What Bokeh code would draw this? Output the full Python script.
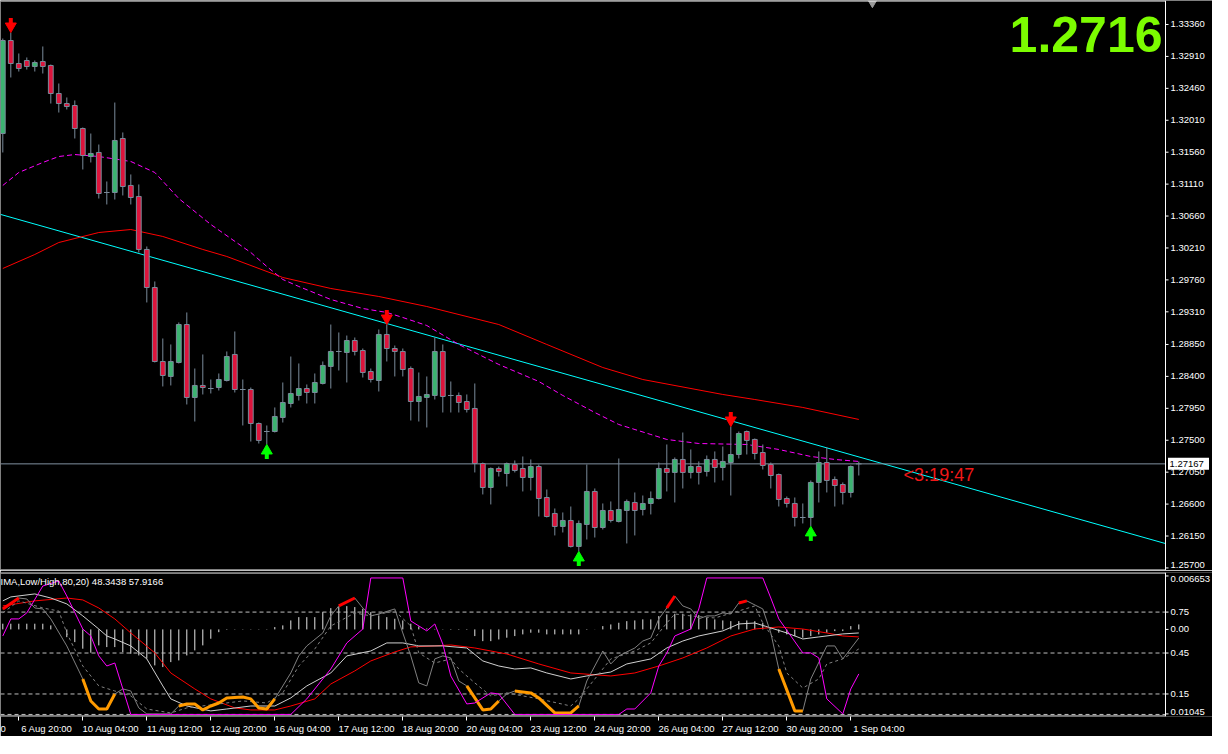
from bokeh.plotting import figure
from bokeh.layouts import column
from bokeh.models import (ColumnDataSource, Range1d, LinearAxis, FixedTicker, Label)
from bokeh.core.properties import value
from bokeh.embed import file_html
from bokeh.resources import INLINE

# ---------------- price data (H4 bars) ----------------
opens = [
    1.31823, 1.33134, 1.32810, 1.32852, 1.32768, 1.32838, 1.32782, 1.32387, 1.32246, 1.32218,
    1.31894, 1.31499, 1.31556, 1.30992, 1.30992, 1.31753, 1.31091, 1.30936, 1.30189, 1.29653,
    1.28610, 1.28399, 1.28596, 1.29131, 1.28103, 1.28272, 1.28229, 1.28243, 1.28342, 1.28709,
    1.28215, 1.28215, 1.27736, 1.27623, 1.27623, 1.27821, 1.28018, 1.28131, 1.28229, 1.28173,
    1.28300, 1.28540, 1.28751, 1.28737, 1.28906, 1.28765, 1.28469, 1.28342, 1.28991, 1.28793,
    1.28751, 1.28511, 1.28046, 1.28103, 1.28131, 1.28751, 1.28131, 1.28131, 1.28046, 1.27948,
    1.27172, 1.26834, 1.27102, 1.27031, 1.27158, 1.27102, 1.26975, 1.27130, 1.26693, 1.26468,
    1.26285, 1.26369, 1.26003, 1.26313, 1.26778, 1.26270, 1.26510, 1.26355, 1.26510, 1.26623,
    1.26524, 1.26609, 1.26679, 1.27102, 1.27046, 1.27229, 1.27046, 1.27130, 1.27060, 1.27229,
    1.27116, 1.27186, 1.27299, 1.27623, 1.27511, 1.27327, 1.27158, 1.27017, 1.26679, 1.26609,
    1.26411, 1.26411, 1.26905, 1.27186, 1.26947, 1.26876, 1.26764, 1.27167]
highs = [
    1.33162, 1.33247, 1.32951, 1.32895, 1.32852, 1.33050, 1.32796, 1.32528, 1.32331, 1.32289,
    1.31908, 1.31823, 1.31668, 1.31147, 1.32260, 1.31838, 1.31246, 1.31105, 1.30231, 1.29738,
    1.28934, 1.28850, 1.29160, 1.29301, 1.28511, 1.28709, 1.28356, 1.28441, 1.28751, 1.29033,
    1.28356, 1.28243, 1.27750, 1.27708, 1.27962, 1.28314, 1.28680, 1.28582, 1.28286, 1.28441,
    1.28610, 1.29131, 1.29019, 1.28976, 1.28948, 1.28793, 1.28511, 1.29061, 1.29131, 1.28835,
    1.28793, 1.28540, 1.28455, 1.28399, 1.28948, 1.28850, 1.28328, 1.28173, 1.28145, 1.28300,
    1.27186, 1.27116, 1.27130, 1.27186, 1.27215, 1.27271, 1.27229, 1.27158, 1.26806, 1.26538,
    1.26482, 1.26566, 1.26369, 1.27158, 1.26820, 1.26609, 1.26637, 1.27243, 1.26665, 1.26764,
    1.26721, 1.26778, 1.27186, 1.27440, 1.27257, 1.27609, 1.27370, 1.27201, 1.27285, 1.27342,
    1.27412, 1.27694, 1.27623, 1.27637, 1.27525, 1.27440, 1.27186, 1.27031, 1.26707, 1.26693,
    1.26609, 1.26933, 1.27342, 1.27398, 1.26989, 1.26905, 1.27144, 1.27201]
lows = [
    1.31556, 1.32613, 1.32697, 1.32725, 1.32697, 1.32669, 1.32246, 1.32119, 1.32162, 1.31753,
    1.31316, 1.31415, 1.30907, 1.30823, 1.30893, 1.30950, 1.30823, 1.30146, 1.29442, 1.28596,
    1.28258, 1.28272, 1.28582, 1.28004, 1.27764, 1.28145, 1.28159, 1.28201, 1.28328, 1.28173,
    1.27708, 1.27482, 1.27454, 1.27440, 1.27609, 1.27750, 1.27962, 1.28060, 1.28018, 1.28018,
    1.28286, 1.28229, 1.28483, 1.28314, 1.28695, 1.28384, 1.28314, 1.28187, 1.28610, 1.28399,
    1.28399, 1.27778, 1.27764, 1.27680, 1.28074, 1.27891, 1.27891, 1.27891, 1.27891, 1.27046,
    1.26736, 1.26595, 1.26989, 1.26848, 1.27046, 1.26778, 1.26792, 1.26425, 1.26411, 1.26158,
    1.26200, 1.25988, 1.25932, 1.26101, 1.26129, 1.26242, 1.26341, 1.26341, 1.26045, 1.26158,
    1.26440, 1.26454, 1.26665, 1.26778, 1.26623, 1.26820, 1.26961, 1.26876, 1.26989, 1.26905,
    1.26933, 1.26721, 1.27243, 1.27299, 1.27229, 1.27088, 1.26820, 1.26566, 1.26552, 1.26285,
    1.26327, 1.26285, 1.26623, 1.26764, 1.26566, 1.26595, 1.26693, 1.27003]
closes = [
    1.33134, 1.32810, 1.32740, 1.32768, 1.32824, 1.32768, 1.32387, 1.32246, 1.32204, 1.31894,
    1.31513, 1.31542, 1.30978, 1.30992, 1.31725, 1.31076, 1.30921, 1.30189, 1.29653, 1.28610,
    1.28413, 1.28610, 1.29131, 1.28103, 1.28272, 1.28243, 1.28229, 1.28356, 1.28680, 1.28215,
    1.28215, 1.27736, 1.27497, 1.27623, 1.27835, 1.28032, 1.28159, 1.28229, 1.28173, 1.28314,
    1.28554, 1.28751, 1.28751, 1.28906, 1.28751, 1.28455, 1.28356, 1.28991, 1.28793, 1.28751,
    1.28497, 1.28046, 1.28117, 1.28145, 1.28751, 1.28117, 1.28131, 1.28032, 1.27933, 1.27172,
    1.26834, 1.27102, 1.27060, 1.27172, 1.27074, 1.26975, 1.27130, 1.26679, 1.26425, 1.26285,
    1.26369, 1.26003, 1.26327, 1.26778, 1.26270, 1.26510, 1.26369, 1.26524, 1.26637, 1.26510,
    1.26609, 1.26679, 1.27102, 1.27046, 1.27229, 1.27046, 1.27130, 1.27046, 1.27229, 1.27116,
    1.27201, 1.27299, 1.27595, 1.27497, 1.27313, 1.27144, 1.27003, 1.26665, 1.26609, 1.26411,
    1.26411, 1.26905, 1.27186, 1.26933, 1.26862, 1.26764, 1.27130, 1.27167]
bars = list(range(len(opens)))

x_tick_bars = [2, 10, 18, 26, 34, 42, 50, 58, 66, 74, 82, 90, 98, 106]
x_tick_labels = ["6 Aug 20:00", "10 Aug 04:00", "11 Aug 12:00", "12 Aug 20:00",
                 "16 Aug 04:00", "17 Aug 12:00", "18 Aug 20:00", "20 Aug 04:00",
                 "23 Aug 12:00", "24 Aug 20:00", "26 Aug 04:00", "27 Aug 12:00",
                 "30 Aug 20:00", "1 Sep 04:00"]
price_ticks = [1.3336, 1.3291, 1.3246, 1.3201, 1.3156, 1.3111, 1.3066, 1.3021, 1.2976,
               1.2931, 1.2885, 1.2840, 1.2795, 1.2750, 1.2705, 1.2660, 1.2615, 1.2570]

last_price = 1.27167
big_price_text = "1.2716"
timer_text = "<3:19:47"
timer_bar = 112.6
ind_title = "IMA,Low/High,80,20) 48.3438 57.9166"

# moving averages (read at bar positions)
red_ma_bars = [0, 4, 7, 12, 16, 20, 25, 28, 35, 41, 47, 53, 62, 68, 75, 80, 90, 94, 100, 107]
red_ma_vals = [1.29921, 1.30118, 1.30287, 1.30428, 1.30470, 1.30372, 1.30189, 1.30090, 1.29794,
               1.29639, 1.29526, 1.29385, 1.29131, 1.28850, 1.28525, 1.28356, 1.28145, 1.28074,
               1.27962, 1.27793]
mag_ma_bars = [0, 2, 5, 7, 9, 12, 16, 19, 22, 26, 31, 33, 35, 37, 41, 45, 48, 50, 53, 57, 62,
               67, 70, 74, 77, 81, 83, 87, 93, 97, 101, 104, 107]
mag_ma_vals = [1.31091, 1.31274, 1.31415, 1.31499, 1.31527, 1.31499, 1.31429, 1.31274, 1.30907,
               1.30541, 1.30146, 1.29949, 1.29766, 1.29667, 1.29484, 1.29357, 1.29301, 1.29230,
               1.29117, 1.28850, 1.28568, 1.28328, 1.28131, 1.27891, 1.27722, 1.27581, 1.27511,
               1.27454, 1.27440, 1.27370, 1.27271, 1.27229, 1.27201]
trend_bars = [0, 100]
trend_prices = [1.30674, 1.27488]

down_arrow_bars = [1, 48, 91]
up_arrow_bars = [33, 72, 101]

# ---------------- oscillator sub-window ----------------
hist = [0.00071, 0.00071, 0.00071, 0.00071, 0.00071, 0.00071, 0.00050, 0.0, -0.00096, -0.00158,
        -0.00240, -0.00290, -0.00199, -0.00220, -0.00220, -0.00283, -0.00303, -0.00324, -0.00365, -0.00448,
        -0.00469, -0.00407, -0.00386, -0.00324, -0.00261, -0.00199, -0.00116, -0.00034, -0.00006, -0.00004,
        -0.00004, -0.00004, -0.00004, -0.00004, 0.00029, 0.00050, 0.00112, 0.00153, 0.00153, 0.00153,
        0.00215, 0.00265, 0.00278, 0.00290, 0.00278, 0.00258, 0.00215, 0.00174, 0.00153, 0.00133,
        0.00112, 0.00071, 0.00037, 0.00012, 0.00006, 0.00004, -0.00006, -0.00006, -0.00006, -0.00083,
        -0.00146, -0.00146, -0.00125, -0.00103, -0.00083, -0.00062, -0.00041, -0.00041, -0.00062, -0.00062,
        -0.00062, -0.00062, -0.00062, -0.00006, 0.00002, 0.00041, 0.00062, 0.00083, 0.00103, 0.00112,
        0.00125, 0.00125, 0.00166, 0.00187, 0.00195, 0.00195, 0.00187, 0.00178, 0.00146, 0.00125,
        0.00112, 0.00103, 0.00103, 0.00112, 0.00103, 0.00083, 0.00019, -0.00041, -0.00062, -0.00083,
        -0.00103, -0.00083, -0.00062, -0.00041, -0.00021, -0.00021, 0.00041, 0.00062]

mag_x = [0, 1, 2, 3, 5, 7, 8, 10, 11, 12, 13, 14, 16, 36, 38, 41, 43, 45, 46, 50,
         51, 53, 54, 55, 56, 58, 59, 61, 62, 64, 77, 78, 79, 81, 82, 83, 84, 86, 87, 88,
         95, 96, 97, 100, 101, 102, 103, 105, 106, 107]
mag_v = [0.575, 0.700, 0.700, 0.744, 0.941, 0.978, 0.868, 0.626, 0.575, 0.429,
         0.355, 0.377, 0.0, 0.0, 0.114, 0.333, 0.524, 0.626, 1.0, 1.0,
         0.685, 0.612, 0.663, 0.516, 0.282, 0.077, 0.084, 0.158, 0.150, 0.0,
         0.0, 0.040, 0.040, 0.158, 0.355, 0.451, 0.575, 0.626, 0.773, 1.0,
         1.0, 0.853, 0.700, 0.451, 0.451, 0.414, 0.114, 0.004, 0.187, 0.297]
fast_x = [0, 2, 3, 4, 5, 6, 8, 10, 11, 12, 13, 14, 15, 16, 17, 18, 21, 22, 23, 24,
          25, 26, 27, 28, 30, 31, 32, 33, 34, 36, 37, 38, 40, 41, 42, 44, 45, 46, 47, 49,
          50, 51, 52, 53, 54, 55, 56, 57, 58, 60, 61, 62, 63, 64, 66, 67, 69, 71, 72, 73,
          74, 75, 76, 77, 79, 80, 81, 82, 83, 84, 85, 86, 87, 88, 89, 90, 91, 92, 93, 95,
          96, 97, 99, 100, 101, 103, 104, 105, 107]
fast_v = [0.773, 0.853, 0.846, 0.780, 0.773, 0.700, 0.502, 0.260, 0.099, 0.040,
          0.040, 0.150, 0.187, 0.172, 0.048, 0.004, 0.004, 0.062, 0.077, 0.077,
          0.033, 0.062, 0.084, 0.121, 0.128, 0.114, 0.048, 0.040, 0.114, 0.304,
          0.429, 0.502, 0.597, 0.722, 0.795, 0.853, 0.780, 0.722, 0.736, 0.773,
          0.597, 0.429, 0.231, 0.209, 0.407, 0.429, 0.414, 0.245, 0.209, 0.033,
          0.040, 0.099, 0.150, 0.172, 0.158, 0.121, 0.011, 0.011, 0.062, 0.245,
          0.355, 0.465, 0.370, 0.429, 0.487, 0.538, 0.560, 0.700, 0.780, 0.868,
          0.795, 0.773, 0.700, 0.722, 0.722, 0.744, 0.736, 0.817, 0.832, 0.773,
          0.597, 0.333, 0.026, 0.026, 0.260, 0.502, 0.502, 0.407, 0.560]
fast_red_ranges = [(0, 2), (42, 44), (83, 84), (92, 93)]
fast_orange_ranges = [(10, 14), (22, 34), (58, 62), (64, 72), (97, 100)]
sig_x = [0, 2, 5, 7, 8, 10, 12, 14, 16, 18, 21, 23, 27, 30, 33, 35, 37, 39, 41, 44,
         46, 49, 51, 52, 54, 56, 57, 59, 61, 63, 67, 71, 72, 74, 76, 79, 81, 83, 84, 86,
         89, 92, 94, 95, 97, 98, 100, 102, 103, 105, 107]
sig_v = [0.744, 0.832, 0.780, 0.758, 0.597, 0.355, 0.209, 0.172, 0.136, 0.040,
         0.011, 0.048, 0.077, 0.099, 0.084, 0.158, 0.355, 0.480, 0.648, 0.744,
         0.722, 0.758, 0.648, 0.451, 0.377, 0.407, 0.333, 0.231, 0.136, 0.158,
         0.114, 0.062, 0.114, 0.260, 0.407, 0.465, 0.524, 0.670, 0.736, 0.722,
         0.707, 0.758, 0.795, 0.670, 0.502, 0.304, 0.194, 0.260, 0.370, 0.407, 0.480]
lg_x = [0, 1, 4, 6, 8, 10, 12, 13, 14, 16, 18, 20, 21, 23, 26, 28, 31, 34, 36, 38,
        41, 43, 46, 48, 50, 52, 55, 58, 60, 62, 64, 66, 68, 71, 73, 76, 78, 81, 83, 85,
        87, 90, 92, 94, 96, 98, 100, 102, 105, 107]
lg_v = [0.832, 0.861, 0.883, 0.853, 0.810, 0.722, 0.626, 0.575, 0.553, 0.502,
        0.407, 0.209, 0.114, 0.062, 0.026, 0.040, 0.062, 0.062, 0.121, 0.209,
        0.304, 0.429, 0.465, 0.524, 0.524, 0.502, 0.502, 0.487, 0.392, 0.355,
        0.333, 0.341, 0.304, 0.260, 0.282, 0.311, 0.370, 0.407, 0.487, 0.538,
        0.575, 0.612, 0.663, 0.670, 0.634, 0.597, 0.553, 0.568, 0.590, 0.597]
rs_x = [0, 4, 8, 10, 12, 14, 16, 19, 21, 24, 26, 29, 31, 34, 36, 39, 41, 44, 46, 49,
        51, 54, 56, 59, 63, 67, 71, 76, 79, 82, 85, 88, 91, 94, 97, 100, 103, 105, 107]
rs_v = [0.795, 0.832, 0.853, 0.839, 0.780, 0.700, 0.597, 0.451, 0.304, 0.187,
        0.114, 0.048, 0.033, 0.033, 0.062, 0.114, 0.223, 0.319, 0.392, 0.458,
        0.495, 0.502, 0.509, 0.487, 0.443, 0.370, 0.304, 0.282, 0.304, 0.355,
        0.414, 0.487, 0.575, 0.626, 0.641, 0.626, 0.597, 0.575, 0.568]
ind_levels = [0.75, 0.45, 0.15, 0.0]
ind_ticks = [1.0145, 0.75, 0.623, 0.45, 0.15, 0.004]
ind_tick_labels = ["0.006653", "0.75", "0.00", "0.45", "0.15", "0.01045"]

# ---------------- layout / style ----------------
FW = 1212                 # frame width (plot + price-scale strip)
AXIS_PX = 1165            # x pixel of the price-scale line
MAIN_FH = 570
IND_FH = 144
BAR_PX = 8.0
x_start = -0.2875
x_end = x_start + FW / BAR_PX
axis_x = x_start + AXIS_PX / BAR_PX
XPX = 1.0 / BAR_PX
main_y = (1.25664, 1.33698)
PXP = (main_y[1] - main_y[0]) / MAIN_FH
ind_y = (-0.015, 1.040)
VPX = (ind_y[1] - ind_y[0]) / IND_FH
hist_zero_v = 0.623
hist_per_unit = 0.016994
hist_range = ((ind_y[0] - hist_zero_v) * hist_per_unit, (ind_y[1] - hist_zero_v) * hist_per_unit)

FONT = "Liberation Sans"
AX_FS = "9.5px"
BULL = "#3CB371"
BEAR = "#DC143C"
EDGE = "#7A8A9A"


def base_fig(fh, yr, top_border, bottom_border):
    f = figure(frame_width=FW, frame_height=fh,
               x_range=Range1d(x_start, x_end), y_range=Range1d(*yr),
               output_backend="svg", toolbar_location=None,
               x_axis_location=None, y_axis_location=None,
               min_border_left=0, min_border_right=0,
               min_border_top=top_border, min_border_bottom=bottom_border)
    f.background_fill_color = "black"
    f.border_fill_color = "black"
    f.outline_line_color = None
    f.xgrid.grid_line_color = None
    f.ygrid.grid_line_color = None
    return f


def price_scale(f, yr, ypx, ticks, labels, label_ys):
    # frame border of the chart window and its price scale
    f.segment(x0=[x_start, x_start], x1=[axis_x, axis_x],
              y0=[yr[1] - 0.5 * ypx, yr[0] + 0.5 * ypx],
              y1=[yr[1] - 0.5 * ypx, yr[0] + 0.5 * ypx], line_color="white", line_width=1)
    f.segment(x0=[axis_x], x1=[axis_x], y0=[yr[0]], y1=[yr[1]], line_color="white", line_width=1)
    f.segment(x0=[axis_x] * len(ticks), x1=[axis_x + 3 * XPX] * len(ticks),
              y0=ticks, y1=ticks, line_color="white", line_width=1)
    f.text(x=[axis_x + 5 * XPX] * len(ticks), y=label_ys, text=labels,
           text_color="white", text_font=value(FONT), text_font_size=AX_FS,
           text_align="left", text_baseline="middle")


# ---------------- main price window ----------------
p = base_fig(MAIN_FH, main_y, 0, 0)

slope = (trend_prices[1] - trend_prices[0]) / (trend_bars[1] - trend_bars[0])
tl_x = [x_start, axis_x]
tl_y = [trend_prices[0] + (x - trend_bars[0]) * slope for x in tl_x]
p.line(tl_x, tl_y, line_color="#00FFFF", line_width=1)

p.segment(x0=[x_start], x1=[axis_x], y0=[last_price], y1=[last_price],
          line_color="#8090A0", line_width=1)

p.line(red_ma_bars, red_ma_vals, line_color="#FF0000", line_width=1)
p.line(mag_ma_bars, mag_ma_vals, line_color="#FF00FF", line_width=1, line_dash="5 3")

src = ColumnDataSource(dict(x=bars, o=opens, h=highs, l=lows, c=closes))
p.segment(x0="x", y0="l", x1="x", y1="h", source=src, line_color=EDGE, line_width=1)

inc = [i for i in bars if closes[i] > opens[i]]
dec = [i for i in bars if closes[i] < opens[i]]
doj = [i for i in bars if closes[i] == opens[i]]
p.vbar(x=inc, width=0.6, bottom=[opens[i] for i in inc], top=[closes[i] for i in inc],
       fill_color=BULL, line_color=EDGE, line_width=1)
p.vbar(x=dec, width=0.6, bottom=[closes[i] for i in dec], top=[opens[i] for i in dec],
       fill_color=BEAR, line_color=EDGE, line_width=1)
p.segment(x0=[i - 0.35 for i in doj], x1=[i + 0.35 for i in doj],
          y0=[opens[i] for i in doj], y1=[opens[i] for i in doj], line_color=EDGE, line_width=1)

# signal arrows
p.scatter(x=down_arrow_bars, y=[highs[b] + 6.3 * PXP for b in down_arrow_bars],
          marker="inverted_triangle", size=11, fill_color="#FF0000", line_color="#FF0000")
p.rect(x=down_arrow_bars, y=[highs[b] + 11.5 * PXP for b in down_arrow_bars],
       width=4, height=6, width_units="screen", height_units="screen",
       fill_color="#FF0000", line_color=None)
p.scatter(x=up_arrow_bars, y=[lows[b] - 6.3 * PXP for b in up_arrow_bars],
          marker="triangle", size=11, fill_color="#00FF00", line_color="#00FF00")
p.rect(x=up_arrow_bars, y=[lows[b] - 11.5 * PXP for b in up_arrow_bars],
       width=4, height=6, width_units="screen", height_units="screen",
       fill_color="#00FF00", line_color=None)

# chart shift marker
p.scatter(x=[108.7], y=[main_y[1] - 2 * PXP], marker="inverted_triangle", size=9,
          fill_color="#9A9A9A", line_color="#9A9A9A")

# price scale
price_labels = ["%.5f" % t for t in price_ticks]
price_label_ys = [max(t, main_y[0] + 6 * PXP) for t in price_ticks]
price_scale(p, main_y, PXP, price_ticks, price_labels, price_label_ys)

# current bid box on the scale
p.rect(x=[axis_x + 23 * XPX], y=[last_price], width=41, height=12,
       width_units="screen", height_units="screen", fill_color="white", line_color=None)
p.text(x=[axis_x + 4 * XPX], y=[last_price], text=["%.5f" % last_price],
       text_color="black", text_font=value(FONT), text_font_size=AX_FS,
       text_align="left", text_baseline="middle")

p.add_layout(Label(x=timer_bar, y=1.27017, text=timer_text, text_color="#F01818",
                   text_font=FONT, text_font_size="18px", text_align="left",
                   text_baseline="alphabetic"))
p.add_layout(Label(x=axis_x, y=1.33219, x_offset=-3, text=big_price_text, text_color="#7CFC00",
                   text_font=FONT, text_font_size="50px", text_font_style="bold",
                   text_align="right", text_baseline="alphabetic"))

# ---------------- oscillator window ----------------
q = base_fig(IND_FH, ind_y, 2, 0)
q.x_range = p.x_range
q.extra_y_ranges = {"hist": Range1d(*hist_range)}

q.segment(x0=bars, y0=[0.0] * len(bars), x1=bars, y1=hist, y_range_name="hist",
          line_color="#E6E6E6", line_width=1)
q.segment(x0=[x_start] * len(ind_levels), x1=[axis_x] * len(ind_levels),
          y0=ind_levels, y1=ind_levels, line_color="#BEBEBE", line_width=1, line_dash="4 3")

q.line(rs_x, rs_v, line_color="#FF0000", line_width=1)
q.line(lg_x, lg_v, line_color="#D0D0D0", line_width=1)
q.line(sig_x, sig_v, line_color="#808080", line_width=1, line_dash="3 3")
q.line(fast_x, fast_v, line_color="#808080", line_width=1)
for a, b in fast_orange_ranges:
    xs = [x for x in fast_x if a <= x <= b]
    q.line(xs, [fast_v[fast_x.index(x)] for x in xs], line_color="#FF9A00", line_width=3)
for a, b in fast_red_ranges:
    xs = [x for x in fast_x if a <= x <= b]
    q.line(xs, [fast_v[fast_x.index(x)] for x in xs], line_color="#FF0000", line_width=3)
q.line(mag_x, mag_v, line_color="#FF00FF", line_width=1)

ind_label_ys = [min(t, ind_y[1] - 6 * VPX) for t in ind_ticks]
ind_label_ys = [max(t, ind_y[0] + 4.5 * VPX) for t in ind_label_ys]
price_scale(q, ind_y, VPX, ind_ticks, ind_tick_labels, ind_label_ys)

q.add_layout(Label(x=x_start, y=ind_y[1], y_offset=-3, text=ind_title, text_color="white",
                   text_font=FONT, text_font_size=AX_FS, text_align="left",
                   text_baseline="top"))

# time axis: tick marks at the bars, labels start at the tick (MT4 style)
ax_ticks = LinearAxis(ticker=FixedTicker(ticks=x_tick_bars),
                      major_label_overrides={b: "" for b in x_tick_bars})
ax_ticks.axis_line_color = None
ax_ticks.major_tick_line_color = "white"
ax_ticks.minor_tick_line_color = None
ax_ticks.major_tick_out = 4
ax_ticks.major_tick_in = 0
ax_ticks.major_label_standoff = 0
ax_ticks.major_label_text_font_size = "1px"
q.add_layout(ax_ticks, "below")

lab_pos = [x_start + 2 * XPX] + [b + 3.5 for b in x_tick_bars]
lab_txt = ["0"] + x_tick_labels
ax_lab = LinearAxis(ticker=FixedTicker(ticks=lab_pos),
                    major_label_overrides={t: s for t, s in zip(lab_pos, lab_txt)})
ax_lab.axis_line_color = None
ax_lab.major_tick_line_color = None
ax_lab.minor_tick_line_color = None
ax_lab.major_tick_out = 0
ax_lab.major_tick_in = 0
ax_lab.major_label_standoff = 2
ax_lab.major_label_text_color = "white"
ax_lab.major_label_text_font = FONT
ax_lab.major_label_text_font_size = AX_FS
q.add_layout(ax_lab, "below")

layout = column(p, q, spacing=0)
open("out.html", "w").write(file_html(layout, INLINE))
